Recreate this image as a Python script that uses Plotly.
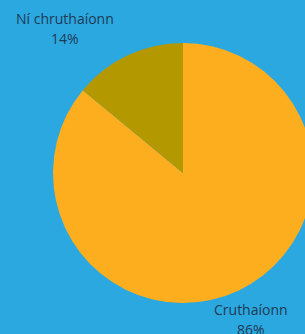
import plotly.graph_objects as go

labels = ["Cruthaíonn", "Ní chruthaíonn"]
values = [86, 14]
colors = ["#FCAE1E", "#B39800"]

W, H = 330, 334
cx, cy, r = 183, 173, 130
# label anchor centres (px from top-left), one per slice
label_pos = [(251, 309), (65, 19)]
line_gap = 20

total = sum(values)
fig = go.Figure(go.Pie(
    labels=labels,
    values=values,
    marker=dict(colors=colors, line=dict(width=0)),
    direction="clockwise",
    sort=False,
    rotation=0,
    textinfo="none",
    hoverinfo="skip",
    domain=dict(x=[(cx - r) / W, (cx + r) / W], y=[(H - cy - r) / H, (H - cy + r) / H]),
))

font = dict(family="Open Sans", size=14, color="#1E3A55")
annotations = []
for lab, val, (px, py) in zip(labels, values, label_pos):
    pct = f"{round(100 * val / total)}%"
    for i, line in enumerate([lab, pct]):
        annotations.append(dict(
            x=px / W, y=1 - (py + i * line_gap) / H, xref="paper", yref="paper",
            text=line, showarrow=False, xanchor="center", yanchor="middle",
            font=font,
        ))

fig.update_layout(
    width=W, height=H,
    margin=dict(l=0, r=0, t=0, b=0),
    paper_bgcolor="#2CA8E0",
    plot_bgcolor="#2CA8E0",
    showlegend=False,
    annotations=annotations,
)
fig.write_html("out.html", config={"displayModeBar": False},
               post_script="document.body.style.margin='0';document.body.style.overflow='hidden';document.documentElement.style.overflow='hidden';")
